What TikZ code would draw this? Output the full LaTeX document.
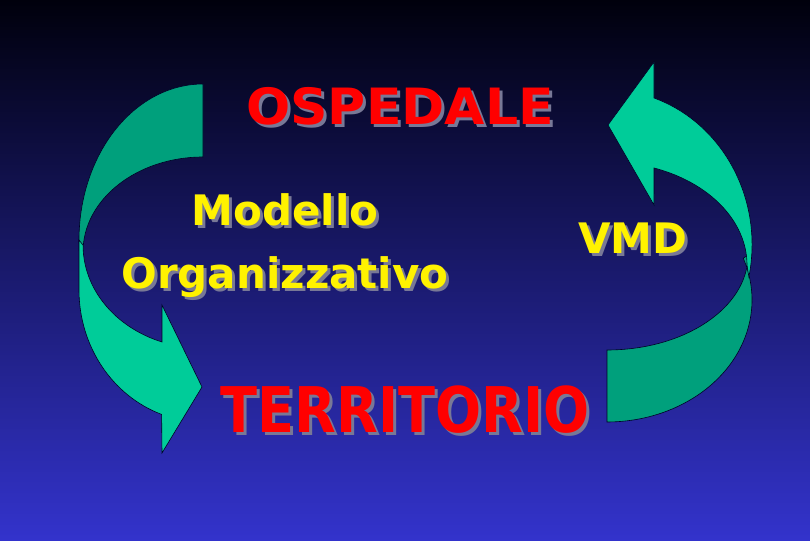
\documentclass[tikz,border=0pt]{standalone}
\usepackage{fontspec}
\setmainfont{DejaVu Sans}
\usetikzlibrary{positioning}
\definecolor{bgtop}{RGB}{0,0,12}
\definecolor{bgmid}{RGB}{27,27,112}
\definecolor{bgbottom}{RGB}{51,51,204}
\definecolor{arrowlight}{RGB}{0,204,153}
\definecolor{arrowdark}{RGB}{0,160,124}
\definecolor{shadowgray}{RGB}{120,120,150}
\tikzset{
  lightpart/.style={
    fill=arrowlight,
    draw=black!85!blue,
    line width=0.6pt
  },
  darkpart/.style={
    fill=arrowdark,
    draw=black!85!blue,
    line width=0.6pt
  },
  bigtext/.style={
    inner sep=0pt,
    anchor=base,
    font=\bfseries\fontsize{50}{60}\selectfont
  },
  hugetext/.style={
    inner sep=0pt,
    anchor=base,
    font=\bfseries\fontsize{63}{70}\selectfont
  },
  smalltext/.style={
    inner sep=0pt,
    anchor=base,
    align=center,
    font=\bfseries\fontsize{42}{63}\selectfont
  }
}

\begin{document}
\begin{tikzpicture}[x=1pt, y=1pt]
    \useasboundingbox (0,0) rectangle (810,540);
    \shade[top color=bgtop, middle color=bgmid, bottom color=bgbottom] (0,0) rectangle (810,540);

    % left arrow: hospital -> territory
    \draw[darkpart] (203,456) arc[start angle=90, end angle=185, x radius=124pt, y radius=156pt]
      -- (83,288) arc[start angle=180, end angle=90, x radius=120pt, y radius=95pt] -- cycle;
    \draw[lightpart] (79,300) -- (79,250) arc[start angle=180, end angle=250.5, x radius=124pt, y radius=132pt]
      -- (162,87) -- (202,153) -- (162,235)
      -- (162,198) arc[start angle=250, end angle=180, x radius=120pt, y radius=103pt] -- cycle;

    % right arrow: territory -> hospital
    \draw[darkpart] (607,118) arc[start angle=-90, end angle=20, x radius=145pt, y radius=122pt]
      -- (748,285) arc[start angle=0, end angle=-90, x radius=141pt, y radius=95pt] -- cycle;
    \draw[lightpart] (654,442) arc[start angle=71.1, end angle=-12, x radius=145pt, y radius=155pt]
      -- (747,275) arc[start angle=0, end angle=70.4, x radius=140pt, y radius=103pt]
      -- (654,335) -- (608,415) -- (654,478) -- cycle;

    % labels with their shadows
    \node[bigtext, text=shadowgray] (ospedaleshadow) at (403,412) {\scalebox{1.04}[1]{OSPEDALE}};
    \node[bigtext, text=red] (ospedale) at (400,415) {\scalebox{1.04}[1]{OSPEDALE}};

    \node[smalltext, text=shadowgray] (modelloshadow) at (288,248) {Modello\\Organizzativo};
    \node[smalltext, text=yellow] (modello) at (285,251) {Modello\\Organizzativo};

    \node[smalltext, text=shadowgray] (vmdshadow) at (636,283) {VMD};
    \node[smalltext, text=yellow] (vmd) at (633,286) {VMD};

    \node[hugetext, text=shadowgray] (territorioshadow) at (408,104) {\scalebox{0.86}[1]{TERRITORIO}};
    \node[hugetext, text=red] (territorio) at (405,107) {\scalebox{0.86}[1]{TERRITORIO}};
\end{tikzpicture}
\end{document}
